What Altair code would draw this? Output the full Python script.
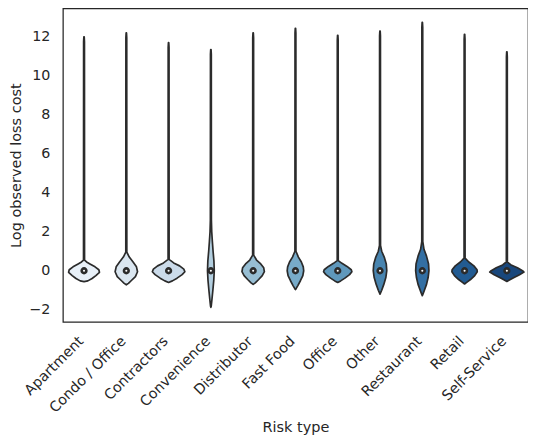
import altair as alt
import pandas as pd
import colorsys

# ---------------- data ----------------
categories = ["Apartment", "Condo / Office", "Contractors", "Convenience", "Distributor",
              "Fast Food", "Office", "Other", "Restaurant", "Retail", "Self-Service"]

# top of each violin's long upper tail (log loss cost)
tail_max = [12.0, 12.2, 11.7, 11.35, 12.2, 12.44, 12.08, 12.3, 12.74, 12.13, 11.23]

# median of each group
medians = [0.0, 0.0, 0.0, 0.0, 0.0, 0.0, 0.0, 0.0, 0.0, 0.0, 0.0]

# violin profiles: (value, half-width as fraction of a category slot), top to bottom
apartment = [(0.55, 0.012), (0.45, 0.06), (0.35, 0.14), (0.2, 0.26), (0.05, 0.35), (-0.08, 0.365),
             (-0.25, 0.28), (-0.4, 0.19), (-0.52, 0.09), (-0.56, 0.0)]
condo_office = [(0.95, 0.012), (0.7, 0.07), (0.45, 0.16), (0.2, 0.24), (-0.05, 0.265),
                (-0.3, 0.215), (-0.5, 0.12), (-0.65, 0.05), (-0.72, 0.0)]
contractors = [(0.58, 0.012), (0.4, 0.12), (0.25, 0.26), (0.08, 0.36), (-0.05, 0.385),
               (-0.2, 0.32), (-0.38, 0.2), (-0.52, 0.09), (-0.6, 0.0)]
convenience = [(2.6, 0.012), (2.0, 0.02), (1.5, 0.035), (1.0, 0.052), (0.5, 0.072), (0.0, 0.08),
               (-0.5, 0.068), (-1.0, 0.047), (-1.5, 0.024), (-1.82, 0.008), (-1.88, 0.0)]
distributor = [(0.8, 0.012), (0.55, 0.08), (0.35, 0.18), (0.15, 0.25), (-0.05, 0.265),
               (-0.25, 0.215), (-0.45, 0.13), (-0.62, 0.05), (-0.7, 0.0)]
fast_food = [(1.0, 0.012), (0.7, 0.07), (0.45, 0.14), (0.2, 0.185), (0.0, 0.195),
             (-0.25, 0.175), (-0.5, 0.12), (-0.75, 0.06), (-0.92, 0.015), (-0.97, 0.0)]
office = [(0.52, 0.012), (0.38, 0.1), (0.22, 0.22), (0.05, 0.32), (-0.05, 0.335),
          (-0.2, 0.28), (-0.38, 0.17), (-0.52, 0.07), (-0.6, 0.0)]
other = [(1.3, 0.012), (1.0, 0.04), (0.7, 0.1), (0.35, 0.148), (0.0, 0.16),
         (-0.35, 0.138), (-0.7, 0.09), (-1.0, 0.04), (-1.15, 0.01), (-1.2, 0.0)]
restaurant = [(1.5, 0.012), (1.1, 0.04), (0.75, 0.1), (0.35, 0.148), (0.0, 0.157),
              (-0.35, 0.138), (-0.7, 0.1), (-1.0, 0.05), (-1.2, 0.015), (-1.28, 0.0)]
retail = [(0.65, 0.012), (0.45, 0.1), (0.25, 0.22), (0.05, 0.295), (-0.05, 0.3),
          (-0.25, 0.24), (-0.45, 0.14), (-0.6, 0.05), (-0.68, 0.0)]
self_service = [(0.45, 0.012), (0.3, 0.1), (0.15, 0.25), (0.0, 0.37), (-0.07, 0.405),
                (-0.2, 0.3), (-0.35, 0.17), (-0.48, 0.06), (-0.55, 0.0)]

profiles = [apartment, condo_office, contractors, convenience, distributor, fast_food,
            office, other, restaurant, retail, self_service]

# seaborn "Blues" palette (11 colours), desaturated 0.75 as violinplot does
blues = ["#e6f0fa", "#d6e6f4", "#c6dbef", "#abd0e6", "#8dc1dd", "#6baed6",
         "#509bcb", "#3787c0", "#2171b5", "#105ba4", "#08468c"]


def desaturate(hx, prop=0.75):
    r, g, b = (int(hx[i:i + 2], 16) / 255 for i in (1, 3, 5))
    h, l, s = colorsys.rgb_to_hls(r, g, b)
    r, g, b = colorsys.hls_to_rgb(h, l, s * prop)
    return "#%02x%02x%02x" % tuple(int(round(v * 255)) for v in (r, g, b))


colors = [desaturate(c) for c in blues]
EDGE = "#2b2b2b"
INK = "#262626"

rows = []
for i, (cat, prof, top) in enumerate(zip(categories, profiles, tail_max)):
    pts = [(top, 0.004), (top - 0.25, 0.01)] + prof
    for y, hw in pts:
        rows.append({"cat": cat, "idx": i, "y": y, "lo": i - hw, "hi": i + hw})
df = pd.DataFrame(rows).sort_values(["idx", "y"])

med_df = pd.DataFrame({"cat": categories, "idx": list(range(len(categories))), "y": medians})

label_expr = "[" + ",".join("'%s'" % c for c in categories) + "][datum.value]"

xscale = alt.Scale(domain=[-0.5, 10.5], nice=False, zero=False)
yscale = alt.Scale(domain=[-2.62, 13.46], nice=False, zero=False)
xaxis = alt.Axis(values=list(range(11)), labelExpr=label_expr, labelAngle=-45,
                 labelAlign="right", labelBaseline="top", labelPadding=12, labelOffset=-8,
                 labelOverlap=False, labelBound=False, labelFlush=False,
                 title="Risk type", titlePadding=5, ticks=False, domain=False, grid=False)
yaxis = alt.Axis(values=list(range(-2, 13, 2)), title="Log observed loss cost", labelOverlap=False,
                 ticks=False, domain=False, grid=False, labelPadding=13, titlePadding=5)

violins = alt.Chart(df).mark_area(
    orient="horizontal", stroke=EDGE, strokeWidth=1.7, strokeJoin="round", opacity=1
).encode(
    x=alt.X("lo:Q", scale=xscale, axis=xaxis),
    x2="hi:Q",
    y=alt.Y("y:Q", scale=yscale, axis=yaxis),
    fill=alt.Fill("cat:N", scale=alt.Scale(domain=categories, range=colors), legend=None),
    detail="cat:N",
)

dots = alt.Chart(med_df).mark_circle(
    color="white", stroke=EDGE, strokeWidth=2.6, size=22, opacity=1
).encode(
    x=alt.X("idx:Q", scale=xscale, axis=xaxis),
    y=alt.Y("y:Q", scale=yscale, axis=yaxis),
)

chart = alt.layer(violins, dots).properties(
    width=466, height=314, background="white",
    padding={"left": 0, "top": 0, "right": 0, "bottom": 0}
).configure_view(
    stroke=INK, strokeWidth=1.25
).configure_axis(
    labelFont="DejaVu Sans", titleFont="DejaVu Sans", labelFontSize=14.3, titleFontSize=14.5,
    titleFontWeight="normal", labelColor=INK, titleColor=INK
)

chart.save("out.html", embed_options={"renderer": "svg", "actions": False})
